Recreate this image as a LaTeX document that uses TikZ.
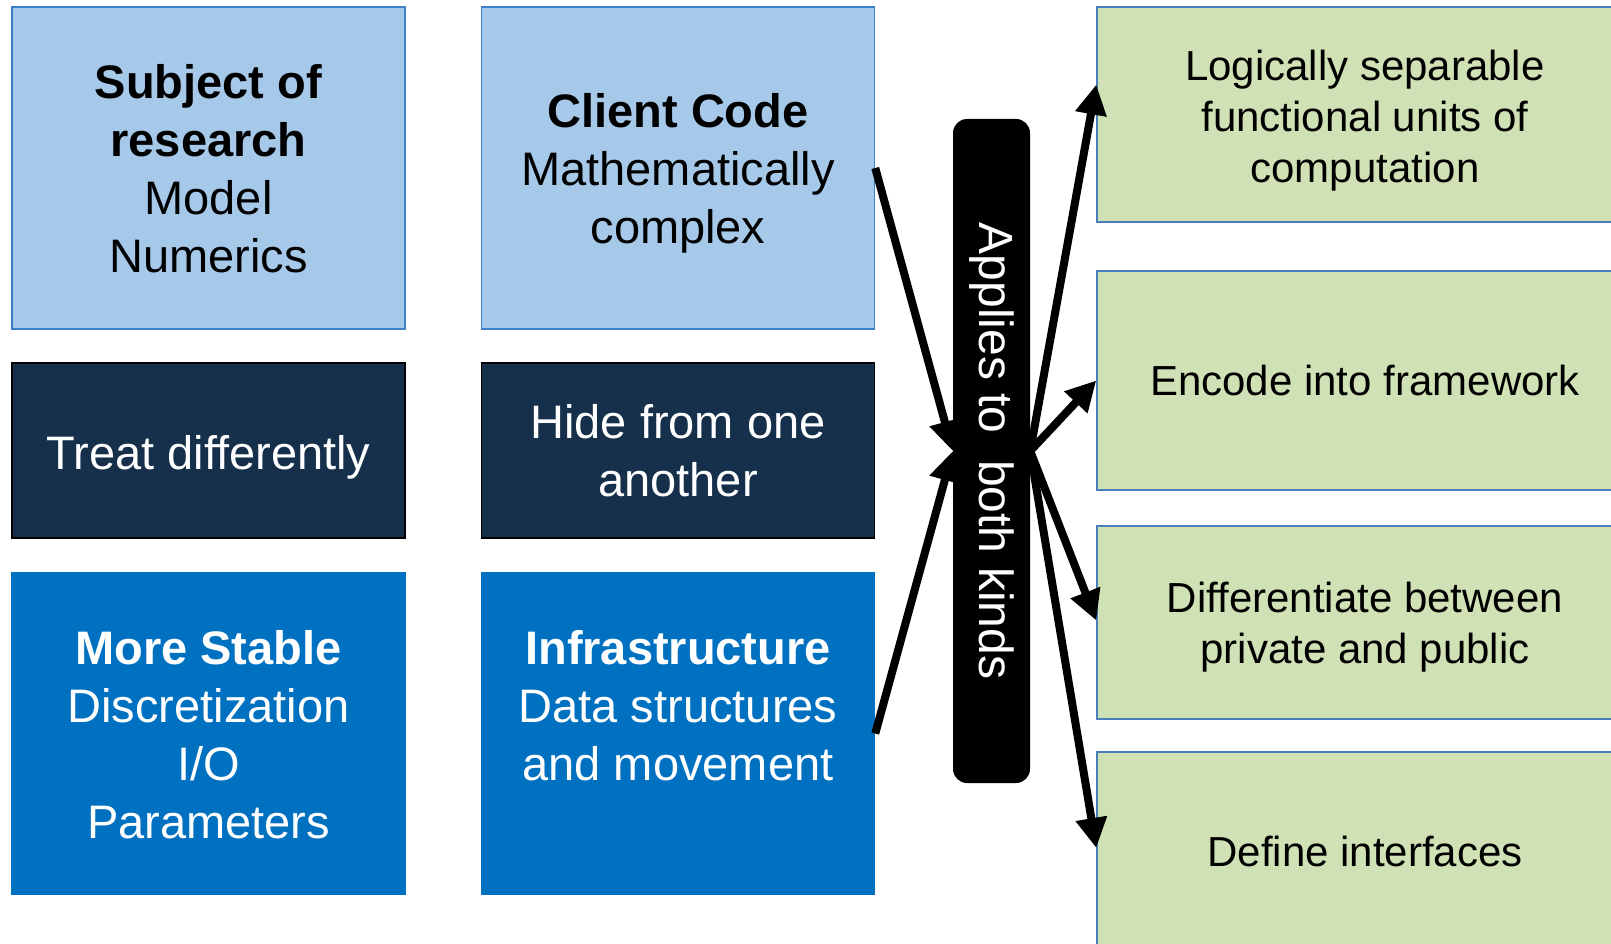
\documentclass[tikz,border=0pt]{standalone}
\usepackage{fontspec}
\setmainfont{Liberation Sans}
\usetikzlibrary{arrows.meta,calc}
\definecolor{lblue}{HTML}{A6C8E9}
\definecolor{lborder}{HTML}{3F7FC6}
\definecolor{navy}{HTML}{16304B}
\definecolor{bblue}{HTML}{0070C0}
\definecolor{lgreen}{HTML}{D0E2B5}
\definecolor{gborder}{HTML}{4A7EBB}
\newcommand\lift[1]{\rule{0pt}{#1}}
\begin{document}
\begin{tikzpicture}[x=1pt,y=-1pt,
 box/.style={rectangle, inner sep=0pt, minimum width=393pt, align=center, font=\fontsize{47}{58}\selectfont, line width=1.5pt},
 lightbox/.style={box, fill=lblue, draw=lborder, text=black, minimum height=322pt},
 darkbox/.style={box, fill=navy, draw=black, text=white, minimum height=175pt},
 bluebox/.style={box, fill=bblue, draw=bblue, text=white, minimum height=321pt},
 greenbox/.style={rectangle, inner sep=0pt, minimum width=536pt, align=center, fill=lgreen, draw=gborder, line width=1.5pt, font=\fontsize{42}{51}\selectfont},
 barbox/.style={rectangle, rounded corners=14pt, fill=black, inner sep=0pt, minimum width=77pt, minimum height=664pt},
 conn/.style={line width=8pt, -{Triangle[length=30pt,width=30pt]}},
]
\useasboundingbox (0,0) rectangle (1611,944);
% left column
\node[lightbox] (sub) at (208.5,168) {\lift{35pt}\textbf{Subject of}\\\textbf{research}\\Model\\Numerics};
\node[darkbox] (treat) at (208.5,450.5) {\lift{48.5pt}Treat differently};
\node[bluebox] (stab) at (208.5,733.5) {\lift{36pt}\textbf{More Stable}\\Discretization\\I/O\\Parameters};
% middle column
\node[lightbox] (cli) at (678,168) {\lift{44.5pt}\textbf{Client Code}\\Mathematically\\complex};
\node[darkbox] (hide) at (678,450.5) {Hide from one\\another};
\node[bluebox] (inf) at (678,733.5) {\lift{53pt}\textbf{Infrastructure}\\Data structures\\and movement\\\strut};
% bar
\node[barbox, label={[rotate=-90, text=white, font=\fontsize{48}{58}\selectfont]center:Applies to\ \ both kinds}] (bar) at (991.5,451) {};
% right column
\node[greenbox, minimum height=215pt] (g1) at (1365,114.5) {\lift{42.6pt}Logically separable\\functional units of\\computation};
\node[greenbox, minimum height=219pt] (g2) at (1365,380.5) {Encode into framework};
\node[greenbox, minimum height=193pt] (g3) at (1365,622.5) {\lift{40.6pt}Differentiate between\\private and public};
\node[greenbox, minimum height=198pt] (g4) at (1365,851) {Define interfaces};
% connectors
\draw[conn] (cli.east) -- (bar.west);
\draw[conn] (inf.east) -- (bar.west);
\draw[conn] (bar.east) -- ([yshift=30pt]g1.west);
\draw[conn] (bar.east) -- (g2.west);
\draw[conn] (bar.east) -- ([yshift=2pt]g3.west);
\draw[conn] (bar.east) -- ([yshift=3pt]g4.west);
\end{tikzpicture}
\end{document}
